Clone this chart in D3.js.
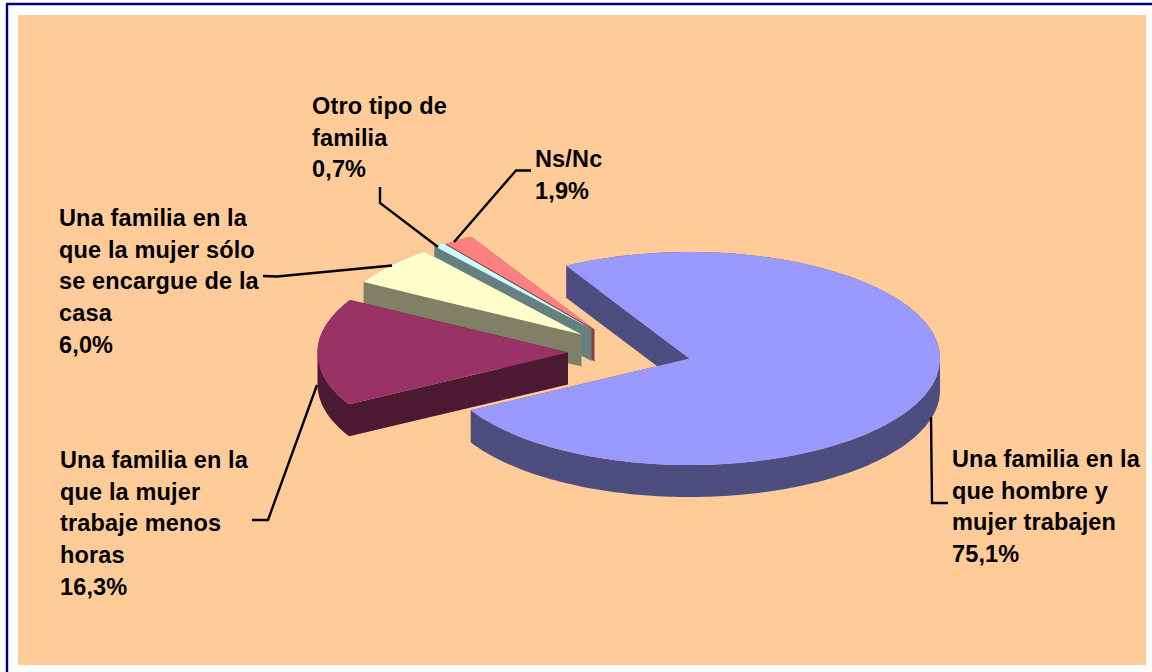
<!DOCTYPE html>
<html>
<head>
<meta charset="utf-8">
<script src="https://cdnjs.cloudflare.com/ajax/libs/d3/7.8.5/d3.min.js"></script>
<style>
html,body{margin:0;padding:0;background:#fff;overflow:hidden}
svg{display:block}
text{font-family:"Liberation Sans",Arial,sans-serif;font-weight:700;font-size:23.5px;fill:#000;letter-spacing:.15px}
</style>
</head>
<body>
<svg id="c" width="1152" height="672"></svg>
<script>
// Data
const categories = [
  "Una familia en la que hombre y mujer trabajen",
  "Una familia en la que la mujer trabaje menos horas",
  "Una familia en la que la mujer sólo se encargue de la casa",
  "Otro tipo de familia",
  "Ns/Nc"
];
const values = [75.1, 16.3, 6.0, 0.7, 1.9];
const labelLines = [
  ["Una familia en la","que hombre y","mujer trabajen"],
  ["Una familia en la","que la mujer","trabaje menos","horas"],
  ["Una familia en la","que la mujer sólo","se encargue de la","casa"],
  ["Otro tipo de","familia"],
  ["Ns/Nc"]
];

// Styling and layout (separate from the data)
const topColors  = ["#9999FF","#993366","#FFFFCC","#CCFFFF","#FF8080"];
const wallColors = ["#4D4D80","#4D1A33","#808066","#668080","#804040"];
const apexes = [[689.5,358.5],[568,352.5],[581.5,334.5],[591.5,329],[594.5,329.5]];
const labelPos = [[952,467],[60,468],[59,226],[312,114],[535,167]];
const leaders = [
  [[948,503],[932,503],[931,417]],
  [[252,520],[268,520],[317,385]],
  [[263,276],[277,276.5],[392,265.5]],
  [[380,187],[380,203],[438,247]],
  [[531,170.5],[516,170.5],[454,242]]
];
const rx = 250.5, ry = 106.5, depth = 32, linePitch = 31.7;
const startDeg = -29.5;
const fmt = v => v.toFixed(1).replace(".", ",") + "%";

const svg = d3.select("#c");
svg.append("path").attr("d","M7 672V4H1152").attr("fill","none").attr("stroke","#000080").attr("stroke-width",2.4);
svg.append("rect").attr("x",18).attr("y",15).attr("width",1128).attr("height",650).attr("fill","#FFCC99");

const pie = d3.pie().sort(null)
  .startAngle(startDeg*Math.PI/180)
  .endAngle((startDeg+360)*Math.PI/180);
const arcs = pie(values);

const sx = d3.scaleLinear().domain([-1,1]).range([-rx,rx]);
const sy = d3.scaleLinear().domain([-1,1]).range([-ry,ry]);

function outline(a){
  const n = Math.max(2, Math.ceil((a.endAngle-a.startAngle)/0.02));
  const pts = [[0,0]];
  d3.range(n+1).forEach(i=>{
    const t = a.startAngle + (a.endAngle-a.startAngle)*i/n;
    pts.push([sx(Math.sin(t)), sy(-Math.cos(t))]);
  });
  return pts;
}
const line = d3.line();
const order = [4,3,2,1,0];

order.forEach(i=>{
  const pts = outline(arcs[i]);
  const g = svg.append("g").attr("transform",`translate(${apexes[i][0]},${apexes[i][1]})`);
  // Extruded side walls merged into one path, quads wound alike, so no seams show
  const wallPath = pts.map((p,k)=>{
    const q = pts[(k+1)%pts.length];
    const quad = [p,q,[q[0],q[1]+depth],[p[0],p[1]+depth]];
    return line(d3.polygonArea(quad)<0 ? quad.slice().reverse() : quad)+"Z";
  }).join("");
  g.append("path").attr("d",wallPath).attr("fill",wallColors[i]);
  g.append("path").attr("d",line(pts)+"Z").attr("fill",topColors[i]);
});

leaders.forEach(l=>{
  svg.append("path").attr("d",line(l)).attr("fill","none").attr("stroke","#000").attr("stroke-width",2.4);
});

categories.forEach((c,i)=>{
  const t = svg.append("text").attr("data-category",c);
  labelLines[i].concat([fmt(values[i])]).forEach((s,k)=>{
    t.append("tspan").attr("x",labelPos[i][0]).attr("y",labelPos[i][1]+k*linePitch).text(s);
  });
});
</script>
</body>
</html>
